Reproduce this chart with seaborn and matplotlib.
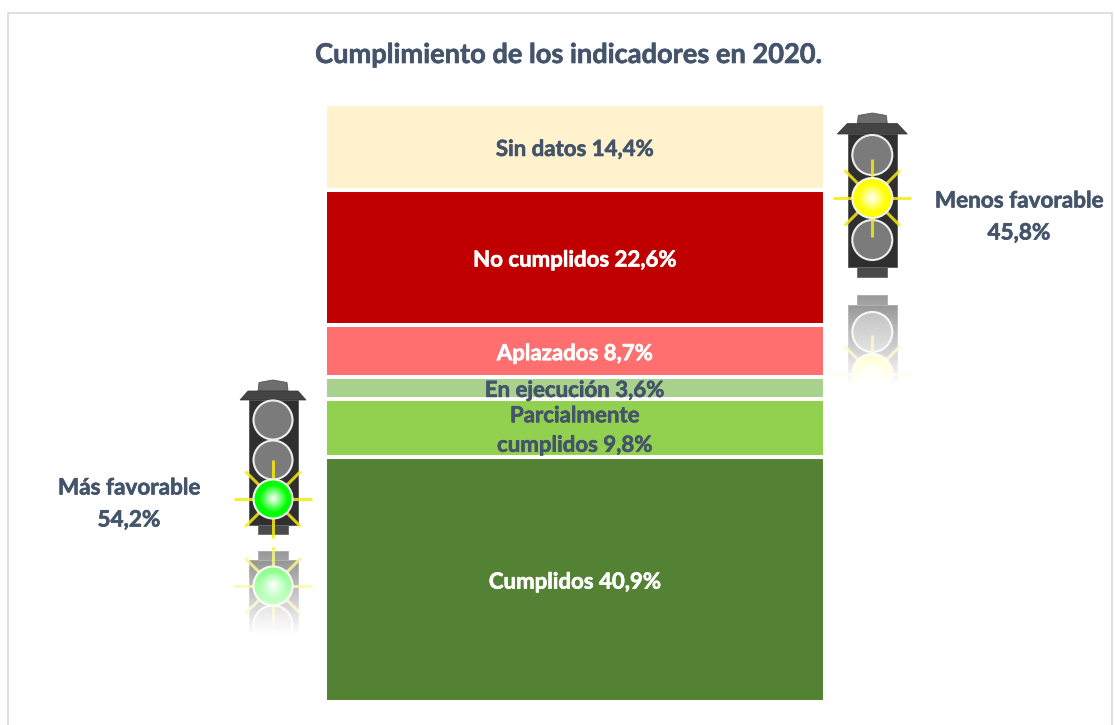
import numpy as np
import pandas as pd
import matplotlib
matplotlib.use("Agg")
import matplotlib.pyplot as plt
import matplotlib.patheffects as pe
from matplotlib.patches import Rectangle, Polygon, Circle
from matplotlib.transforms import Bbox, TransformedBbox
import seaborn as sns

# ---- data (bottom to top) ----
categories = ["Cumplidos", "Parcialmente\ncumplidos", "En ejecución", "Aplazados", "No cumplidos", "Sin datos"]
values = [40.9, 9.8, 3.6, 8.7, 22.6, 14.4]
value_labels = ["40,9%", "9,8%", "3,6%", "8,7%", "22,6%", "14,4%"]
colors = ["#548235", "#92D050", "#A9D18E", "#FF6F6F", "#C00000", "#FFF2CC"]
text_colors = ["white", "#44546A", "#44546A", "white", "white", "#44546A"]
title = "Cumplimiento de los indicadores en 2020."
side_labels = ["Menos favorable\n45,8%", "Más favorable\n54,2%"]

W, H = 1115, 725
FONT = "Lato"
TXT = "#44546A"
sns.set_theme(style="white")
plt.rcParams["font.family"] = [FONT, "DejaVu Sans"]

fig = plt.figure(figsize=(W / 100, H / 100), dpi=100, facecolor="white")


def px_axes(l, t, r, b):
    return fig.add_axes([l / W, 1 - b / H, (r - l) / W, (b - t) / H])


def bolder(color):
    return [pe.withStroke(linewidth=0.45, foreground=color)]


# ---- stacked bar ----
ax = px_axes(325, 104, 825, 702)
df = pd.DataFrame({"cat": categories, "val": values})
df["bottom"] = df["val"].cumsum().shift(fill_value=0)
for i, row in df.iterrows():
    sns.barplot(x=["all"], y=[row["val"]], bottom=row["bottom"], color=colors[i],
                saturation=1, width=1, edgecolor="white", linewidth=2.9, ax=ax)
    ax.text(0, row["bottom"] + row["val"] / 2 - 0.4, f"{row['cat']} {value_labels[i]}",
            ha="center", va="center", color=text_colors[i], fontsize=16,
            fontweight="bold", linespacing=1.5, zorder=5, clip_on=False,
            path_effects=bolder(text_colors[i]))
ax.set_xlim(-0.5, 0.5)
ax.set_ylim(0, 100)
ax.axis("off")

# ---- overlay in pixel coordinates: frame, title, side labels, traffic lights ----
ov = fig.add_axes([0, 0, 1, 1], zorder=3)
ov.set_xlim(0, W)
ov.set_ylim(H, 0)
ov.axis("off")
ov.patch.set_alpha(0)

ov.plot([8, 8, 1112, 1112], [725, 13, 13, 725], color="#D9D9D9", lw=1.2, zorder=1)
ov.text(568, 55, title, ha="center", va="center", fontsize=19.6, fontweight="bold", color=TXT,
        path_effects=bolder(TXT))
ov.text(1019, 217, side_labels[0], ha="center", va="center", fontsize=16.2, fontweight="bold",
        color=TXT, linespacing=1.65, path_effects=bolder(TXT))
ov.text(129, 504, side_labels[1], ha="center", va="center", fontsize=16.2, fontweight="bold",
        color=TXT, linespacing=1.65, path_effects=bolder(TXT))


def glow(cx, cy, r, edge, z):
    n = 120
    yy, xx = np.mgrid[-1:1:n * 1j, -1:1:n * 1j]
    d = np.clip(np.hypot(xx, yy), 0, 1)
    edge_rgb = np.array(matplotlib.colors.to_rgb(edge))
    t = np.clip(d / 0.72, 0, 1)[..., None]
    img = (1 - t) * np.array([1, 1, 1]) + t * edge_rgb
    im = ov.imshow(img, extent=(cx - r, cx + r, cy + r, cy - r), zorder=z, aspect="auto",
                   interpolation="bilinear")
    im.set_clip_path(Circle((cx, cy), r, transform=ov.transData))
    return im, ov.add_patch(Circle((cx, cy), r, fc="none", ec="#F4F4F4", lw=1.5, zorder=z + 0.1))


def light(cx, layout, r, lit, glowc, hood, Y, clip=None):
    """Y maps the light's own vertical layout; mirrored copies get a flipped map."""
    cap_t, hood_t, body_t, body_b, foot_b, centers = layout
    z = 2
    arts = []
    arts.append(ov.add_patch(Polygon([(cx - 15, Y(hood_t)), (cx - 14, Y(cap_t + 2.5)), (cx, Y(cap_t)),
                                      (cx + 14, Y(cap_t + 2.5)), (cx + 15, Y(hood_t))],
                                     fc="#6E6E6E", ec="#555555", lw=0.6, zorder=z)))
    arts.append(ov.add_patch(Polygon([(cx - 25, Y(hood_t)), (cx + 25, Y(hood_t)),
                                      (cx + hood, Y(body_t)), (cx - hood, Y(body_t))],
                                     fc="#444444", ec="#333333", lw=0.5, zorder=z + 0.1)))
    arts.append(ov.add_patch(Rectangle((cx - 24.5, min(Y(body_t), Y(body_b))), 49, abs(Y(body_b) - Y(body_t)),
                                       fc="#2F2F2F", ec="#555555", lw=0.6, zorder=z)))
    arts.append(ov.add_patch(Rectangle((cx - 15, min(Y(body_b), Y(foot_b))), 30, abs(Y(foot_b) - Y(body_b)),
                                       fc="#4A4A4A", ec="#666666", lw=0.6, zorder=z)))
    for i, cy in enumerate(centers):
        if i != lit:
            arts.append(ov.add_patch(Circle((cx, Y(cy)), r, fc="#7B7B7B", ec="#EDEDED", lw=1.5, zorder=z + 0.3)))
    cy = Y(centers[lit])
    for a in np.arange(0, 360, 45):
        rr = 39
        arts += ov.plot([cx, cx + rr * np.cos(np.radians(a))], [cy, cy + rr * np.sin(np.radians(a))],
                        color="#F6EC10", lw=2.2, alpha=0.85, zorder=z + 0.5, solid_capstyle="butt")
    arts += list(glow(cx, cy, r, glowc, z + 1))
    if clip is not None:
        box = TransformedBbox(Bbox([[clip[0], clip[1]], [clip[2], clip[3]]]), ov.transData)
        for art in arts:
            art.set_clip_box(box)


def fade(x0, x1, y0, y1, a0):
    n = 100
    a = np.linspace(a0, 1, n)[:, None]
    img = np.ones((n, 1, 4))
    img[..., 3] = a
    ov.imshow(img, extent=(x0, x1, y1, y0), aspect="auto", zorder=8, interpolation="bilinear")


# yellow light (right)
amarillo = (113, 123.5, 134, 267, 277, (155, 198, 240))
light(872.3, amarillo, 20, 1, "#FFFF00", 35, lambda y: y)
light(872.3, amarillo, 20, 1, "#FFFF00", 35, lambda y: 572 - y, clip=(826, 285, 918, 384))
fade(826, 918, 291, 384, 0.42)

# green light (left)
verde = (380, 391, 400, 525, 534, (420, 460, 499))
light(273, verde, 19.5, 2, "#00FF00", 33, lambda y: y)
light(273, verde, 19.5, 2, "#00FF00", 33, lambda y: 1085 - y, clip=(226, 545, 322, 634))
fade(226, 322, 549, 634, 0.42)

ov.set_xlim(0, W)
ov.set_ylim(H, 0)
fig.savefig("out.png", dpi=100, facecolor="white")
